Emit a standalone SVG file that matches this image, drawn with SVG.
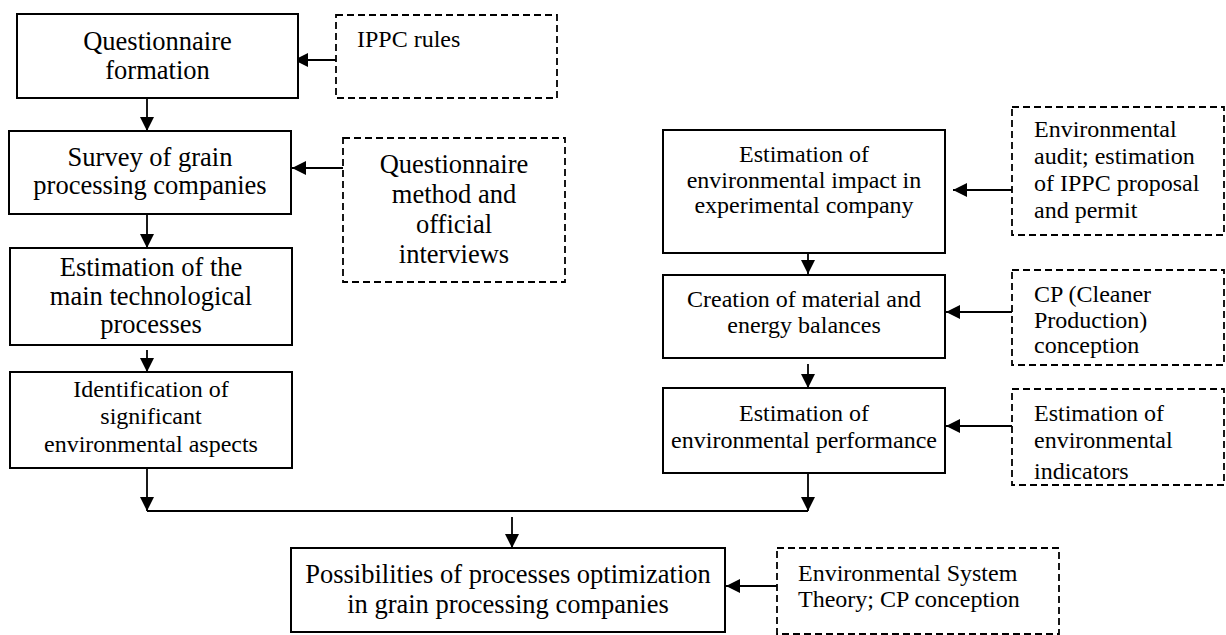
<svg xmlns="http://www.w3.org/2000/svg" width="1226" height="635" viewBox="0 0 1226 635">
<style>
.box{fill:#fff;stroke:#000;stroke-width:2}
.dash{fill:#fff;stroke:#000;stroke-width:1.8;stroke-dasharray:7 4}
.big{font-size:26.5px}
.sm{font-size:24px}
.c{text-anchor:middle}
.ln{fill:none;stroke:#000;stroke-width:1.8}
</style>
<defs>
<marker id="ah" markerUnits="userSpaceOnUse" markerWidth="15" markerHeight="14" refX="14" refY="7" orient="auto">
<path d="M0,0 L14,7 L0,14 z" fill="#000"/>
</marker>
</defs>
<rect width="1226" height="635" fill="#fff"/>

<g id="connectors">
<line class="ln" x1="147" y1="98" x2="147" y2="131" marker-end="url(#ah)"/>
<line class="ln" x1="147" y1="214" x2="147" y2="248" marker-end="url(#ah)"/>
<line class="ln" x1="147" y1="350" x2="147" y2="372" marker-end="url(#ah)"/>
<line class="ln" x1="147" y1="465" x2="147" y2="511" marker-end="url(#ah)"/>
<line class="ln" x1="808" y1="251" x2="808" y2="274" marker-end="url(#ah)"/>
<line class="ln" x1="808" y1="364" x2="808" y2="388" marker-end="url(#ah)"/>
<line class="ln" x1="808" y1="473" x2="808" y2="511" marker-end="url(#ah)"/>
<line class="ln" x1="147" y1="511" x2="808" y2="511"/>
<line class="ln" x1="512" y1="517" x2="512" y2="548" marker-end="url(#ah)"/>
<line class="ln" x1="336" y1="60" x2="294" y2="60" marker-end="url(#ah)"/>
<line class="ln" x1="343" y1="168" x2="292" y2="168" marker-end="url(#ah)"/>
<line class="ln" x1="1012" y1="190" x2="953" y2="190" marker-end="url(#ah)"/>
<line class="ln" x1="1012" y1="312" x2="946" y2="312" marker-end="url(#ah)"/>
<line class="ln" x1="1012" y1="426" x2="946" y2="426" marker-end="url(#ah)"/>
<line class="ln" x1="777" y1="586" x2="726" y2="586" marker-end="url(#ah)"/>
</g>

<g font-family="Liberation Serif, Times New Roman, Tinos, DejaVu Serif, serif" fill="#000">
<g id="n1">
<rect class="box" x="17" y="14" width="281" height="84"/>
<text class="big c" x="157.5" y="50">Questionnaire</text>
<text class="big c" x="157.5" y="79">formation</text>
</g>
<g id="n2">
<rect class="box" x="9" y="131" width="282" height="83"/>
<text class="big c" x="150" y="166">Survey of grain</text>
<text class="big c" x="150" y="194">processing companies</text>
</g>
<g id="n3">
<rect class="box" x="10" y="248" width="282" height="97"/>
<text class="big c" x="151" y="276">Estimation of the</text>
<text class="big c" x="151" y="305">main technological</text>
<text class="big c" x="151" y="333">processes</text>
</g>
<g id="n4">
<rect class="box" x="10" y="372" width="282" height="96"/>
<text class="sm c" x="151" y="397">Identification of</text>
<text class="sm c" x="151" y="424">significant</text>
<text class="sm c" x="151" y="452">environmental aspects</text>
</g>
<g id="d1">
<rect class="dash" x="336" y="15" width="221" height="83"/>
<text class="sm" x="357" y="47">IPPC rules</text>
</g>
<g id="d2">
<rect class="dash" x="343" y="138" width="222" height="144"/>
<text class="big c" x="454" y="173">Questionnaire</text>
<text class="big c" x="454" y="203">method and</text>
<text class="big c" x="454" y="233">official</text>
<text class="big c" x="454" y="263">interviews</text>
</g>
<g id="n5">
<rect class="box" x="663" y="130" width="282" height="123"/>
<text class="sm c" x="804" y="162">Estimation of</text>
<text class="sm c" x="804" y="188">environmental impact in</text>
<text class="sm c" x="804" y="213">experimental company</text>
</g>
<g id="n6">
<rect class="box" x="663" y="275" width="282" height="83"/>
<text class="sm c" x="804" y="307">Creation of material and</text>
<text class="sm c" x="804" y="333">energy balances</text>
</g>
<g id="n7">
<rect class="box" x="663" y="388" width="282" height="85"/>
<text class="sm c" x="804" y="421">Estimation of</text>
<text class="sm c" x="804" y="448">environmental performance</text>
</g>
<g id="d3">
<rect class="dash" x="1012" y="107" width="212" height="128"/>
<text class="sm" x="1034" y="137">Environmental</text>
<text class="sm" x="1034" y="164">audit; estimation</text>
<text class="sm" x="1034" y="191">of IPPC proposal</text>
<text class="sm" x="1034" y="218">and permit</text>
</g>
<g id="d4">
<rect class="dash" x="1012" y="270" width="212" height="95"/>
<text class="sm" x="1034" y="302">CP (Cleaner</text>
<text class="sm" x="1034" y="328">Production)</text>
<text class="sm" x="1034" y="353">conception</text>
</g>
<g id="d5">
<rect class="dash" x="1012" y="389" width="212" height="96"/>
<text class="sm" x="1034" y="421">Estimation of</text>
<text class="sm" x="1034" y="448">environmental</text>
<text class="sm" x="1034" y="479">indicators</text>
</g>
<g id="n8">
<rect class="box" x="291" y="548" width="434" height="84"/>
<text class="big c" x="508" y="583">Possibilities of processes optimization</text>
<text class="big c" x="508" y="613">in grain processing companies</text>
</g>
<g id="d6">
<rect class="dash" x="777" y="548" width="282" height="86"/>
<text class="sm" x="798" y="581">Environmental System</text>
<text class="sm" x="798" y="607">Theory; CP conception</text>
</g>
</g>
</svg>
